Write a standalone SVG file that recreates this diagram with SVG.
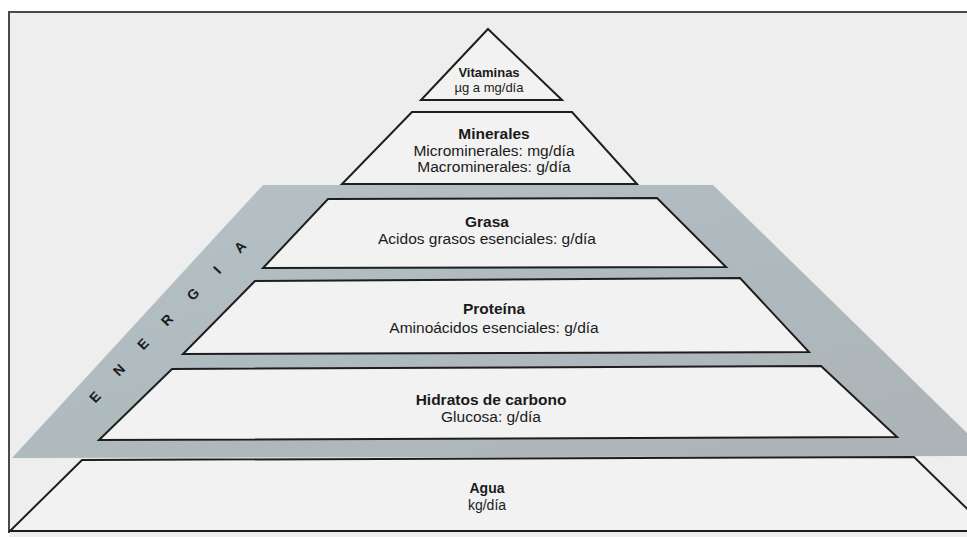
<svg xmlns="http://www.w3.org/2000/svg" width="967" height="537" viewBox="0 0 967 537">
<defs>
<style>
.tier{fill:#f2f2f2;stroke:#1e1e1e;stroke-width:2;stroke-linejoin:miter}
.t{font-family:"Liberation Sans",Arial,sans-serif;fill:#1a1a1a;text-anchor:middle}
.b{font-weight:bold}
.e{font-family:"Liberation Sans",Arial,sans-serif;font-weight:bold;font-size:14px;fill:#1a1a1a;text-anchor:middle}
</style>
<linearGradient id="band" x1="0" y1="0" x2="1" y2="1">
<stop offset="0" stop-color="#b6c2c6"/>
<stop offset="0.5" stop-color="#afbabe"/>
<stop offset="1" stop-color="#adb3b6"/>
</linearGradient>
</defs>
<rect width="967" height="537" fill="#ffffff"/>
<rect x="9" y="12" width="958" height="525" fill="#eeeeee"/>
<g id="frame">
<path d="M9,533 V12 H967" fill="none" stroke="#4a4a4a" stroke-width="2"/>
</g>
<g id="energia">
<polygon points="263,185 713,185 967,433 967,456 12,458" fill="url(#band)"/>
<text class="e" transform="translate(95,397) rotate(-46)" dy="5">E</text>
<text class="e" transform="translate(119,370) rotate(-46)" dy="5">N</text>
<text class="e" transform="translate(143,344) rotate(-46)" dy="5">E</text>
<text class="e" transform="translate(167,320) rotate(-46)" dy="5">R</text>
<text class="e" transform="translate(193,294) rotate(-46)" dy="5">G</text>
<text class="e" transform="translate(217,270) rotate(-46)" dy="5">I</text>
<text class="e" transform="translate(240,247) rotate(-46)" dy="5">A</text>
</g>
<g id="agua">
<polygon class="tier" points="82,460 914,457 990,531 10,531"/>
<text class="t b" x="487" y="493" font-size="14">Agua</text>
<text class="t" x="487" y="510" font-size="14">kg/día</text>
</g>
<g id="hidratos">
<polygon class="tier" points="172,369 821,366 897,437 99,440"/>
<text class="t b" x="491" y="405" font-size="15.5">Hidratos de carbono</text>
<text class="t" x="491" y="422" font-size="15.5">Glucosa: g/día</text>
</g>
<g id="proteina">
<polygon class="tier" points="255,281 740,278 809,352 183,354"/>
<text class="t b" x="494" y="314" font-size="15.5">Proteína</text>
<text class="t" x="494" y="333" font-size="15.5">Aminoácidos esenciales: g/día</text>
</g>
<g id="grasa">
<polygon class="tier" points="328,199 657,198 726,267 263,268"/>
<text class="t b" x="487" y="227" font-size="15.5">Grasa</text>
<text class="t" x="487" y="244" font-size="15.5">Acidos grasos esenciales: g/día</text>
</g>
<g id="minerales">
<polygon class="tier" points="412,112 572,112 637,184 342,184"/>
<text class="t b" x="494" y="139" font-size="15.5">Minerales</text>
<text class="t" x="494" y="156" font-size="15.5">Microminerales: mg/día</text>
<text class="t" x="494" y="172" font-size="15.5">Macrominerales: g/día</text>
</g>
<g id="vitaminas">
<polygon class="tier" points="488,29 562,100 421,100"/>
<text class="t b" x="489" y="77" font-size="13">Vitaminas</text>
<text class="t" x="489" y="92" font-size="13">µg a mg/día</text>
</g>
</svg>
